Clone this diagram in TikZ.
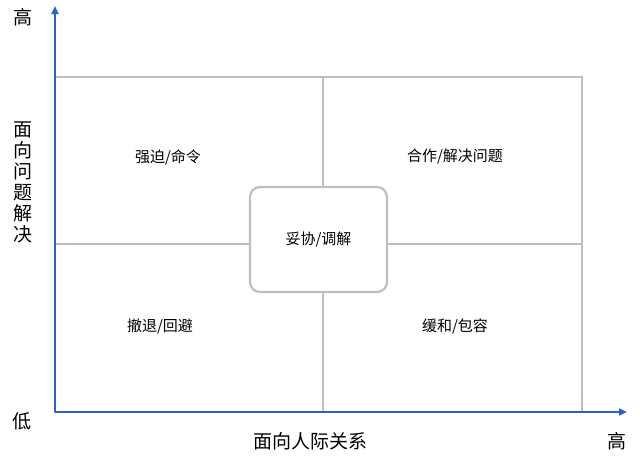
\documentclass[tikz,border=0pt]{standalone}
\usepackage{fontspec}
\setmainfont{Noto Sans CJK SC}
\usetikzlibrary{arrows.meta}
\begin{document}
\begin{tikzpicture}[x=1pt,y=-1pt,
  grid/.style={draw=black!25,line width=2.2pt},
  axis/.style={draw={rgb,255:red,40;green,100;blue,200},line width=2.2pt,-{Triangle[length=8pt,width=7pt]}},
  quad/.style={font=\fontsize{15}{17}\selectfont},
  big/.style={font=\fontsize{19}{22}\selectfont}]
\useasboundingbox (0,0) rectangle (640,461);
\draw[grid] (55,77) rectangle (582,412);
\draw[grid] (55,244) -- (582,244);
\draw[grid] (323,77) -- (323,412);
\node[grid,fill=white,rounded corners=10pt,minimum width=137pt,minimum height=105pt,quad] (c) at (318.5,239.5) {妥协/调解};
\coordinate (o) at (55,412);
\coordinate (yt) at (55,6);
\coordinate (xt) at (627,412);
\draw[axis] (o) -- (yt);
\draw[axis] (o) -- (xt);
\node[quad] (q1) at (168,157) {强迫/命令};
\node[quad] (q2) at (455,157) {合作/解决问题};
\node[quad] (q3) at (160,326) {撤退/回避};
\node[quad] (q4) at (455,326) {缓和/包容};
\node[big] (h1) at (23,17) {高};
\node[big,align=center,inner sep=0pt] (yl) at (23,182) {面\\[-1pt]向\\[-1pt]问\\[-1pt]题\\[-1pt]解\\[-1pt]决};
\node[big] (low) at (22,421) {低};
\node[big] (xl) at (310,441) {面向人际关系};
\node[big] (h2) at (617,441) {高};
\end{tikzpicture}
\end{document}
